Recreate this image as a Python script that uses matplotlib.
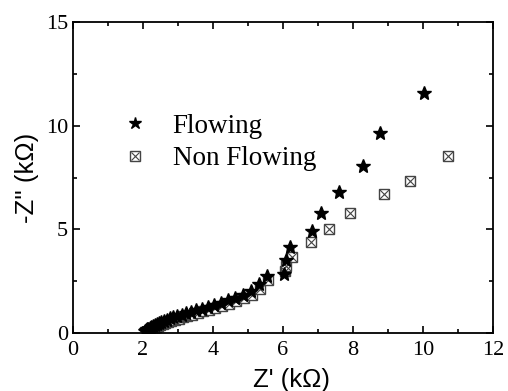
import numpy as np
import matplotlib
matplotlib.use('Agg')
from matplotlib import pyplot as plt
from matplotlib.legend_handler import HandlerTuple

# Flowing (estrellas)
xF = [2.06, 2.09, 2.12, 2.15, 2.19, 2.23, 2.28, 2.33, 2.39, 2.45, 2.52, 2.60, 2.68, 2.77,
      2.87, 2.98, 3.10, 3.23, 3.37, 3.52, 3.68, 3.85, 4.03, 4.22, 4.42, 4.63, 4.85, 5.08,
      5.30, 5.53, 6.03, 6.09, 6.20, 6.82, 7.08, 7.59, 8.28, 8.77, 10.03]
yF = [0.08, 0.13, 0.17, 0.21, 0.26, 0.30, 0.35, 0.40, 0.45, 0.50, 0.55, 0.60, 0.65, 0.71,
      0.77, 0.83, 0.89, 0.96, 1.03, 1.10, 1.18, 1.26, 1.35, 1.45, 1.57, 1.70, 1.85, 2.05,
      2.35, 2.74, 2.86, 3.53, 4.14, 4.90, 5.77, 6.82, 8.06, 9.63, 11.59]
# Non Flowing (cuadros con x)
xN = [2.15, 2.19, 2.23, 2.27, 2.32, 2.37, 2.43, 2.49, 2.56, 2.64, 2.72, 2.81, 2.91, 3.02,
      3.14, 3.27, 3.41, 3.56, 3.72, 3.89, 4.07, 4.26, 4.46, 4.67, 4.89, 5.12, 5.35, 5.58,
      6.05, 6.08, 6.26, 6.80, 7.30, 7.92, 8.89, 9.63, 10.72]
yN = [0.06, 0.10, 0.14, 0.18, 0.23, 0.27, 0.32, 0.37, 0.42, 0.47, 0.52, 0.58, 0.63, 0.69,
      0.75, 0.82, 0.89, 0.96, 1.04, 1.12, 1.21, 1.31, 1.42, 1.54, 1.68, 1.85, 2.10, 2.56,
      3.00, 3.25, 3.65, 4.41, 5.00, 5.80, 6.69, 7.35, 8.55]

plt.rcParams['font.family'] = ['Liberation Serif', 'DejaVu Serif']

fig = plt.figure(figsize=(5.08, 3.91), dpi=100)
ax = fig.add_axes([0.1437, 0.1483, 0.8268, 0.7954])

sq = ax.plot(xN, yN, ls='none', marker='s', ms=7.5, mfc='white', mec='#444444', mew=1.0)[0]
cr = ax.plot(xN, yN, ls='none', marker='x', ms=6.5, mec='#444444', mew=0.8)[0]
st = ax.plot(xF, yF, ls='none', marker='*', ms=10, color='black')[0]

ax.set_xlim(0, 12)
ax.set_ylim(0, 15)
ax.set_xticks([0, 2, 4, 6, 8, 10, 12])
ax.set_xticks(np.arange(1, 12, 2), minor=True)
ax.set_yticks([0, 5, 10, 15])
ax.set_yticks([2.5, 7.5, 12.5], minor=True)
ax.tick_params(which='both', direction='in', top=True, right=True, labelsize=16, width=1.2)
ax.tick_params(which='major', length=5)
ax.tick_params(which='minor', length=3)
ax.tick_params(axis='x', pad=6)
for s in ax.spines.values():
    s.set_linewidth(1.3)

ax.set_xlabel("Z' (k\u03a9)", fontsize=18.5, family='Liberation Sans')
ax.xaxis.set_label_coords(0.52, -0.15, transform=ax.transAxes)
ax.xaxis.label.set_va('center')
ax.set_ylabel("-Z'' (k\u03a9)", fontsize=18.5, family='Liberation Sans', labelpad=5)

ax.legend([st, (sq, cr)], ['Flowing', 'Non Flowing'],
          handler_map={tuple: HandlerTuple(ndivide=1)},
          loc='upper left', bbox_to_anchor=(0.121, 0.705), frameon=False, markerscale=0.9,
          fontsize=19.5, handlelength=0.8, handletextpad=1.0, labelspacing=0.27,
          borderpad=0, borderaxespad=0)

fig.savefig('out.png', dpi=100)
